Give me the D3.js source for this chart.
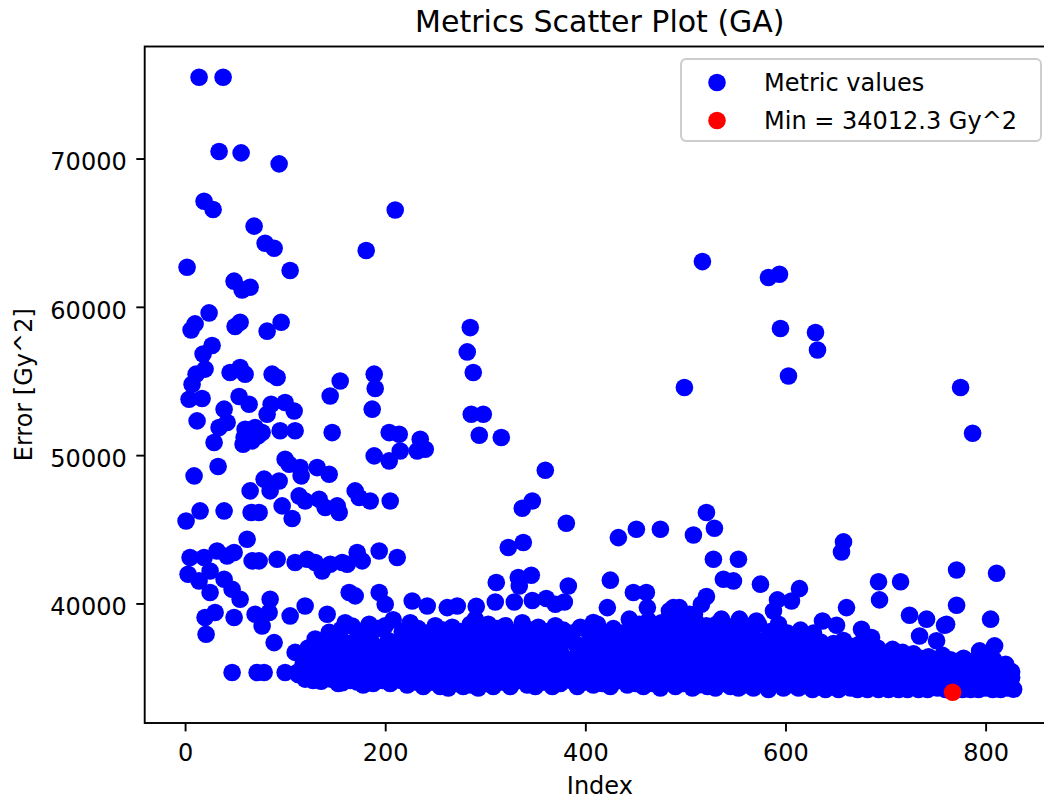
<!DOCTYPE html>
<html>
<head>
<meta charset="utf-8">
<script src="https://cdn.jsdelivr.net/npm/d3@7"></script>
<style>
  html, body { margin: 0; padding: 0; background: #fff; }
  svg { display: block; font-family: "DejaVu Sans", sans-serif; }
</style>
</head>
<body>
<svg id="chart" width="1044" height="799"></svg>
<script>
// === Data: [index, error in Gy^2] ===
const earlyHigh = [
  [14,75480],[38,75480],[34,70470],[56,70380],[94,69640],[19,67120],[28,66560],[210,66530],
  [69,65440],[80,64290],[89,63950],[181,63800],[2,62670],[105,62450],[49,61730],[65,61320],[57,61140],
  [24,59590],[96,58960],[55,58960],[10,58850],[50,58670],[6,58440],[82,58360],[27,57390],[18,56820],
  [55,55910],[20,55800],[45,55570],[11,55460],[60,55460],[87,55460],[189,55460],[92,55230],[155,55000],
  [7,54780],[190,54490],[145,53990],[54,53950],[17,53820],[4,53770],[100,53550],[64,53430],[86,53430],
  [39,53100],[187,53100],[109,52980],[82,52760],[12,52310],[42,52200],[34,51860],[70,51860],[60,51750],
  [95,51640],[110,51640],[77,51520],[147,51520],[204,51520],[63,51500],[214,51410],[73,51300],[59,51190],
  [235,51070],[67,50960],[29,50850],[58,50740],[240,50400],[232,50280],[215,50280],[189,49950],[100,49720],
  [204,49610],[104,49390],[33,49230],[115,49160],[132,49160],[144,48710],[9,48600],[116,48600],[79,48380],
  [94,48260],[65,47590],[85,47590],[170,47590],[114,47250],[174,47140],[134,47030],[120,46910],[185,46910],
  [205,46910],[97,46580],[152,46580],[140,46470],[15,46240],[39,46240],[66,46130],[74,46130],[154,46130],
  [107,45730],[1,45560],[62,44330],[32,43540],[194,43540],[49,43430],[172,43430],[42,43200],[5,43100],
  [19,43100],[212,43100],[92,42980],[122,42980],[67,42870],[74,42870],[177,42870],[110,42760],[130,42760],
  [157,42760],[145,42640],[162,42640],[25,42190],[137,42190],[3,41970],[39,41630],[14,41520],[47,40960],
  [25,40740],[164,40740],[194,40740],[170,40510],[55,40280],[85,40280],[227,40170],[200,39950],[120,39830],
  [242,39830],[30,39390],[84,39390],[70,39270],[142,39270],[105,39160],[20,39050],[49,39050],[77,38480],
  [21,37920],[89,37360],[47,35340],[72,35340],[79,35340],[100,35340],[112,35340]
];

const lateHigh = [
  [517,63050],[594,62200],[583,61980],[285,58600],[595,58540],[630,58270],[632,57090],[282,56960],
  [288,55570],[603,55340],[499,54560],[775,54560],[286,52760],[298,52760],[787,51480],[294,51340],[316,51190],
  [360,48980],[347,46910],[337,46420],[521,46130],[381,45410],[529,45070],[451,45000],[475,45000],[508,44620],
  [433,44440],[658,44150],[338,44110],[323,43770],[656,43470],[528,42980],[553,42980],[771,42260],[811,42040],
  [346,41900],[333,41750],[538,41630],[425,41570],[548,41520],[693,41460],[715,41460],[311,41410],[575,41300],
  [334,41180],[383,41180],[614,41000],[448,40740],[461,40740],[521,40470],[361,40330],[592,40240],[694,40240],
  [347,40200],[606,40170],[310,40100],[329,40100],[379,40100],[516,39950],[370,39950],[771,39880],[272,39830],
  [291,39800],[262,39720],[422,39720],[462,39720],[488,39720],[494,39720],[661,39720],[588,39490],[484,39500],
  [504,39270],[509,39270],[724,39200],[290,38940],[444,38940],[536,38940],[554,38940],[741,38940],[805,38940],
  [463,38830],[571,38820],[637,38820],[408,38710],[593,38600],[761,38600],[651,38530],[759,38530],[676,38260],
  [613,37920],[734,37810],[686,37700],[751,37480],[809,37140],[794,36800],[799,36240],[774,36130],[816,35680],
  [826,35000],[828,34220]
];

const bandEarly = [
  [110,36700],[113,35200],[117,36450],[120,34900],[124,35800],[127,35550],[130,37600],[131,36400],[133,35750],
  [136,34750],[137,37100],[140,35100],[142,36300],[144,38050],[146,34900],[147,36700],[149,35600],[151,37500],
  [153,34600],[154,35550],[156,38250],[157,34650],[158,36900],[160,38700],[161,35900],[163,37300],[165,34800],
  [166,36200],[167,38480],[168,35300],[170,37100],[172,34700],[174,36600],[175,38100],[177,35600],[179,37700],
  [180,34900],[182,36400],[184,38600],[185,35200],[187,37300],[188,34600],[190,36000],[192,38300],[193,35500],
  [195,37000],[197,34800],[198,36700],[200,38500],[202,35800],[203,37500],[205,34600],[207,36300],[208,38900],
  [210,35200],[212,37200],[213,34900],[215,36000],[217,38100],[218,35500],[220,37600],[222,34500],[223,36500],
  [225,38700],[227,35300],[228,37000],[230,34700],[232,36100],[233,38300],[235,35700],[237,37400],[238,34400],
  [240,36800],[242,38000],[243,35100],[245,37700],[247,34700],[248,36300],[250,38500],[252,35600],[253,37100],
  [255,34400],[257,36000],[258,38200],[260,35300]
];

const bandMid = [
  [262,37500],[263,34300],[265,36400],[267,38400],[268,35000],[270,37000],[272,34600],[273,35900],[275,38100],
  [277,36700],[278,34400],[280,37700],[282,35400],[283,36300],[285,38600],[287,34800],[288,37200],[290,35800],
  [292,36900],[293,34300],[295,38200],[297,35300],[298,37500],[300,36200],[302,34600],[303,38600],[305,35700],
  [307,37000],[308,34400],[310,36500],[312,38300],[313,35100],[315,37600],[317,34700],[318,36000],[320,38500],
  [322,35500],[323,37100],[325,34400],[327,36700],[328,38000],[330,35200],[332,37400],[333,34800],[335,36200],
  [337,38700],[338,35800],[340,37000],[342,34500],[343,36600],[345,38200],[347,35300],[348,37700],[350,34400],
  [352,36000],[353,38400],[355,35600],[357,37200],[358,34700],[360,36800],[362,38100],[363,35000],[365,37500],
  [367,34400],[368,36300],[370,38500],[372,35700],[373,37000],[375,34600],[377,36500],[378,38200],[380,35200],
  [382,37600],[383,34900],[385,36100],[387,38000],[388,35500],[390,37300],[392,34400],[393,36700],[395,38400],
  [397,35300],[398,37100],[400,34700],[402,36300],[403,38100],[405,35800],[407,37500],[408,34500],[410,36900],
  [412,38600],[413,35400],[415,37000],[417,34600],[418,36200],[420,37900],[422,35100],[423,37400],[425,34400],
  [427,36600],[428,38300],[430,35600],[432,37100],[433,34800],[435,36000],[437,38000],[438,35300],[440,37600],
  [442,34500],[443,36500],[445,38200],[447,35000],[448,37200],[450,34600],[452,36300],[453,37800],[454,38600],
  [455,35400],[457,36900],[458,34400],[460,36000],[461,38200],[462,37500],[463,35100],[465,37100],[466,38500],
  [467,34600],[468,36400],[470,37900],[471,38300],[472,35600],[473,36800],[475,34300],[476,38700],[477,35900],
  [478,37400],[480,35200],[481,38100],[482,36600],[483,34700],[485,38000],[486,38500],[487,35700],[488,37000],
  [490,34400],[491,38800],[492,36200],[493,37600],[495,35300],[496,38200],[497,36900],[498,34600],[500,35900],
  [501,38600],[502,37300],[503,35000],[505,36500],[506,38400],[507,34300],[508,37800],[510,35600],[511,38700],
  [512,36800],[513,34500],[515,36100],[516,38200],[517,37400],[518,35200],[520,36700],[521,38500],[522,34400],
  [523,35800],[525,37200],[526,38100],[527,35000],[528,36400],[530,34300],[531,38600],[532,37700],[533,35700],
  [535,36900],[536,38300],[537,34600],[538,36000],[540,37300],[541,38500],[542,35300],[543,36600],[545,34400],
  [546,38000],[547,35900],[548,37000],[550,35100],[551,38400],[552,36300],[553,34300],[555,37500],[556,38200],
  [557,35600],[558,36700],[560,34500]
];

const bandLate = [
  [562,37600],[563,35500],[565,36500],[567,38300],[568,34300],[570,37000],[572,35200],[573,38600],[575,36100],
  [577,34600],[578,37500],[580,35800],[582,36800],[583,34200],[585,38100],[587,35400],[588,37200],[590,34700],
  [592,36300],[593,38400],[595,35600],[597,37600],[598,34300],[600,36600],[602,38000],[603,35100],[605,37000],
  [607,34500],[608,35900],[610,37800],[612,36200],[613,34300],[615,38200],[617,35300],[618,36900],[620,34600],
  [622,37400],[623,35700],[625,36400],[627,34200],[628,38000],[630,35000],[632,36800],[633,34400],[635,37400],
  [637,35600],[638,36200],[640,34200],[642,37000],[643,35100],[645,36500],[647,34500],[648,37300],[650,35800],
  [652,36000],[653,34200],[655,36900],[657,35300],[658,37500],[660,34600],[662,36300],[663,35600],[665,34300],
  [667,37100],[668,35000],[670,36500],[672,34200],[673,35900],[675,37300],[677,34700],[678,36100],[680,35400],
  [682,34200],[683,36800],[685,35100],[687,36400],[688,34400],[690,35700],[692,37000],[693,34200],[695,36000],
  [697,35300],[698,34600],[700,36600],[702,35000],[703,34200],[705,35800],[707,36900],[708,34500],[710,35400],
  [712,36300],[713,34200],[715,35600],[717,36700],[718,34800],[720,35200],[722,34200],[723,36200],[725,35500],
  [727,34500],[728,36600],[730,34900],[732,35800],[733,34200],[735,36300],[737,35200],[738,34600],[740,35900],
  [742,34200],[743,36400],[745,35400],[747,34700],[748,35100],[750,36100],[752,34300],[753,35700],[755,34900],
  [757,36500],[758,35300],[760,34200],[762,35900],[763,34700],[765,36200],[768,35400],[770,34300],[772,36000],
  [773,34900],[775,35500],[777,34200],[778,36300],[780,35000],[782,34500],[783,35800],[785,34200],[787,36100],
  [788,35300],[790,34700],[792,35700],[793,34200],[795,36000],[797,34900],[798,35400],[800,34300],[802,35900],
  [803,34600],[805,35200],[807,34200],[808,36200],[810,35000],[812,34500],[813,35600],[815,34200],[817,35300],
  [818,34800],[820,35900],[822,34300],[823,35000],[825,34600],[826,35400]
];

// extra runs sitting between the rows above, so the band reads as solid
const bandFill = [
  [118,35900],[123,37000],[128,34800],[134,36900],[139,35400],[145,37400],[150,35000],[155,36400],[159,35100],
  [164,36700],[169,35800],[173,37900],[178,34500],[183,35900],[186,37000],[191,34900],[196,36200],[201,37200],
  [206,35300],[211,36800],[216,34800],[221,35900],[226,37500],[231,35400],[236,36500],[241,34600],[246,35800],
  [251,37300],[256,35000],[261,36700],[266,35600],[271,37400],[276,35200],[281,36100],[286,34500],[291,37300],
  [296,36400],[301,35100],[306,37900],[311,35500],[316,36800],[321,34900],[326,35800],[331,36500],[336,35000],
  [341,37800],[346,36300],[351,35200],[356,37500],[361,35400],[366,36000],[371,34900],[376,37300],[381,36000],
  [386,34800],[391,35800],[396,37000],[401,35500],[406,36600],[411,35000],[416,37700],[421,36000],[426,35200],
  [431,37800],[436,35100],[441,36200],[446,35600],[451,37400],[456,35000],[459,37300],[464,35800],[469,35000],
  [474,37300],[479,35900],[484,36100],[489,35100],[494,37000],[499,35400],[504,36300],[509,35100],[514,37100],
  [519,35800],[524,36000],[529,35400],[534,37200],[539,35100],[544,36900],[549,35600],[554,36000],[559,37200],
  [564,35900],[569,35100],[574,37100],[579,35300],[584,36500],[589,35900],[594,37100],[599,35300],[604,36300],
  [609,35000],[614,36700],[619,35600],[624,37000],[629,35800],[634,35300],[639,36600],[644,35700],[649,34900],
  [654,35600],[659,36200],[664,35000],[669,36000],[674,35300],[679,36800],[684,35700],[689,35100],[694,36400],
  [699,35500],[704,35100],[709,36000],[714,35000],[719,36100],[724,35600],[729,35100],[734,35500],[739,34900],
  [744,35700],[749,34900],[754,35600],[759,35100],[764,35700],[769,35000],[774,34700],[779,35600],[784,35100],
  [789,35900],[794,34700],[799,35000],[804,35800],[809,34800],[814,35000],[819,35300],[824,34900]
];

const minPoint = [767, 34012.3];

const xTicks = [0, 200, 400, 600, 800];
const yTicks = [40000, 50000, 60000, 70000];

(function () {
    const svg = d3.select('#chart');
    const font = '"DejaVu Sans", sans-serif';
    const plot = { left: 144.7, top: 46.5, right: 1055, bottom: 723 };

    svg.append('rect').attr('width', 1044).attr('height', 799).attr('fill', '#fff');

    const metric = [].concat(earlyHigh, lateHigh, bandEarly, bandMid, bandLate, bandFill);
    const every = metric.concat([minPoint]);

    // matplotlib-like 5% margins
    const pad = e => { const m = (e[1] - e[0]) * 0.05; return [e[0] - m, e[1] + m]; };
    const x = d3.scaleLinear().domain(pad(d3.extent(every, d => d[0]))).range([plot.left, plot.right]);
    const y = d3.scaleLinear().domain(pad(d3.extent(every, d => d[1]))).range([plot.bottom, plot.top]);

    // Points
    svg.append('g')
        .selectAll('circle')
        .data(metric)
        .join('circle')
        .attr('cx', d => x(d[0]))
        .attr('cy', d => y(d[1]))
        .attr('r', 8.8)
        .attr('fill', '#0000ff');

    svg.append('circle')
        .datum(minPoint)
        .attr('cx', d => x(d[0]))
        .attr('cy', d => y(d[1]))
        .attr('r', 8.8)
        .attr('fill', '#ff0000');

    // Axes
    const styleAxis = g => {
        g.attr('font-family', font).attr('font-size', 24);
        g.select('.domain').remove();
        g.selectAll('line').attr('stroke', '#000').attr('stroke-width', 1.9);
        g.selectAll('text').attr('fill', '#000');
    };

    svg.append('g')
        .attr('transform', `translate(0,${plot.bottom})`)
        .call(d3.axisBottom(x).tickValues(xTicks).tickFormat(d3.format('d'))
            .tickSize(8.4).tickSizeOuter(0).tickPadding(13))
        .call(styleAxis);

    svg.append('g')
        .attr('transform', `translate(${plot.left},0)`)
        .call(d3.axisLeft(y).tickValues(yTicks).tickFormat(d3.format('d'))
            .tickSize(8.4).tickSizeOuter(0).tickPadding(9.6))
        .call(styleAxis)
        .call(g => g.selectAll('text').attr('dy', '0.47em'));

    // Frame
    svg.append('rect')
        .attr('x', plot.left).attr('y', plot.top)
        .attr('width', plot.right - plot.left).attr('height', plot.bottom - plot.top)
        .attr('fill', 'none').attr('stroke', '#000').attr('stroke-width', 1.9);

    const cx = (plot.left + plot.right) / 2;

    // Title and labels
    svg.append('text')
        .attr('x', cx).attr('y', 31.7)
        .attr('text-anchor', 'middle')
        .attr('font-family', font).attr('font-size', 30)
        .text('Metrics Scatter Plot (GA)');

    svg.append('text')
        .attr('x', cx).attr('y', 794)
        .attr('text-anchor', 'middle')
        .attr('font-family', font).attr('font-size', 24)
        .text('Index');

    svg.append('text')
        .attr('transform', `translate(31.5,${(plot.top + plot.bottom) / 2}) rotate(-90)`)
        .attr('text-anchor', 'middle')
        .attr('font-family', font).attr('font-size', 24)
        .text('Error [Gy^2]');

    // Legend
    const legendItems = [
        { label: 'Metric values', color: '#0000ff' },
        { label: `Min = ${minPoint[1].toFixed(1)} Gy^2`, color: '#ff0000' }
    ];
    const legend = svg.append('g').attr('transform', 'translate(681,59)');
    legend.append('rect')
        .attr('width', 360).attr('height', 82).attr('rx', 5)
        .attr('fill', '#fff').attr('fill-opacity', 0.8)
        .attr('stroke', '#cccccc').attr('stroke-width', 1.9);
    const item = legend.selectAll('g.item')
        .data(legendItems)
        .join('g')
        .attr('class', 'item')
        .attr('transform', (d, i) => `translate(0,${23.5 + i * 38})`);
    item.append('circle').attr('cx', 36).attr('r', 8.8).attr('fill', d => d.color);
    item.append('text')
        .attr('x', 83).attr('dy', '0.36em')
        .attr('font-family', font).attr('font-size', 24)
        .text(d => d.label);
})();
</script>
</body>
</html>
